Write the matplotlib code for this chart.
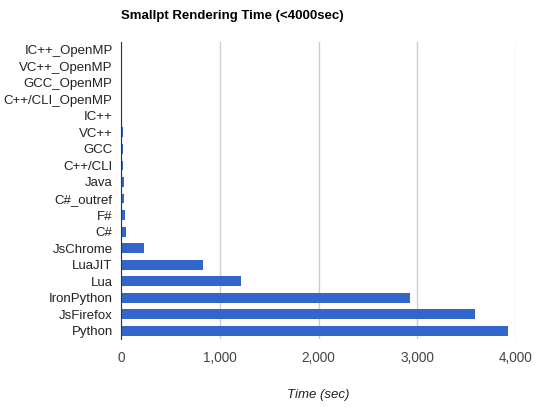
import numpy as np
import matplotlib
matplotlib.use("Agg")
import matplotlib.pyplot as plt

plt.rcParams['font.family'] = ['Liberation Sans', 'DejaVu Sans']

languages = ["IC++_OpenMP", "VC++_OpenMP", "GCC_OpenMP", "C++/CLI_OpenMP",
             "IC++", "VC++", "GCC", "C++/CLI", "Java", "C#_outref", "F#", "C#",
             "JsChrome", "LuaJIT", "Lua", "IronPython", "JsFirefox", "Python"]
times = [3, 3, 4, 5, 15, 17, 21, 25, 26, 32, 45, 46,
         231, 828, 1220, 2923, 3584, 3918]
xticks = [0, 1000, 2000, 3000, 4000]

fig = plt.figure(figsize=(5.5, 4.09), dpi=100)
ax = fig.add_axes([121/550, 1 - 339/409, (516-121)/550, (339-41.5)/409])

y = np.arange(len(languages))
ax.barh(y, times, height=0.6, color='#3366CC', zorder=3)
ax.set_ylim(len(languages) - 0.5, -0.5)
ax.set_xlim(0, 4000)

ax.set_yticks(y)
ax.set_yticklabels(languages, fontsize=9.5, color='#222222')
ax.set_xticks(xticks)
ax.set_xticklabels([f"{v:,}" for v in xticks], fontsize=9.8, color='#444444')
ax.tick_params(length=0)
ax.tick_params(axis='y', pad=6)
ax.tick_params(axis='x', pad=9)

ax.grid(axis='x', color='#cccccc', linewidth=1, zorder=0)
for s in ['top', 'right', 'bottom']:
    ax.spines[s].set_visible(False)
ax.spines['left'].set_color('#333333')
ax.spines['left'].set_zorder(4)

# axis title sits well below the tick labels
fig.text((121 + 516) / 2 / 550, 1 - 395/409, "Time (sec)", fontsize=9.5,
         style='italic', color='#222222', ha='center', va='center')
fig.text(121/550, 1 - 16/409, "Smallpt Rendering Time (<4000sec)", fontsize=9.5,
         fontweight='bold', color='#000000', ha='left', va='center')

fig.savefig("out.png", dpi=100)
